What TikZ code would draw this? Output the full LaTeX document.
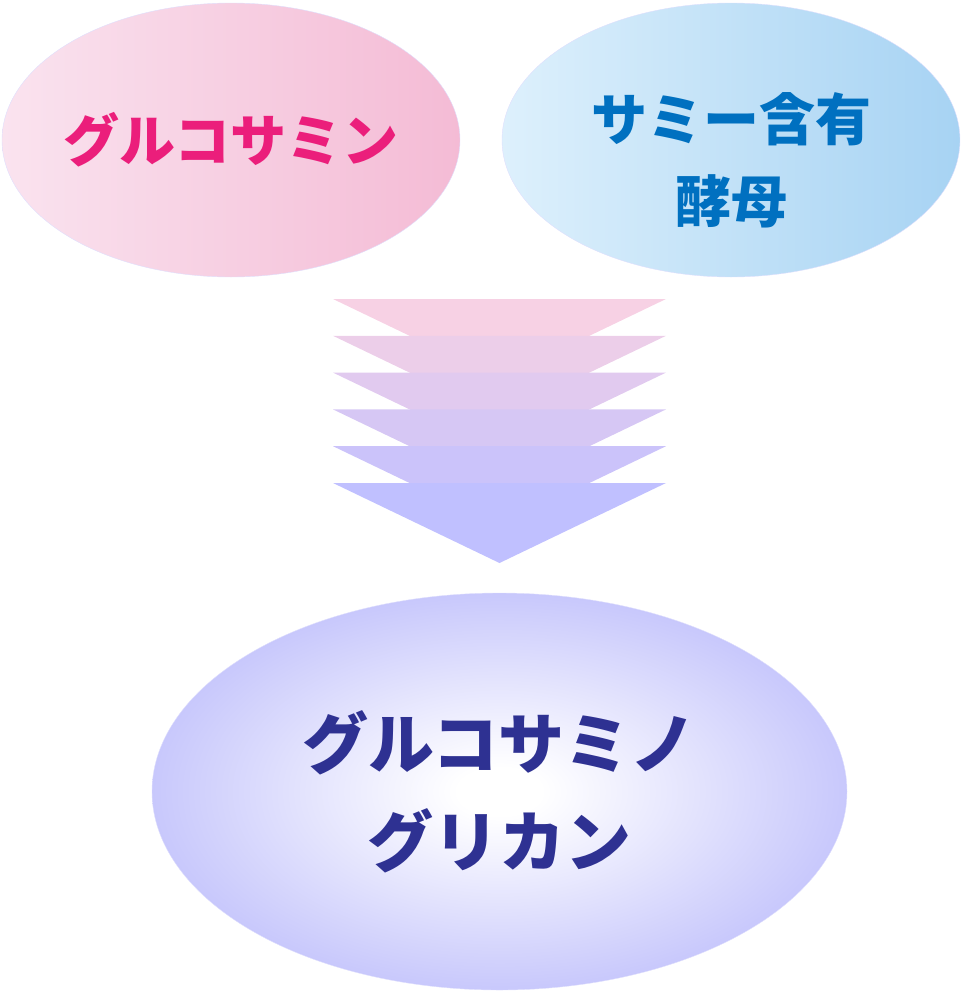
\documentclass[tikz,border=0pt]{standalone}
\usepackage{fontspec}
\newfontfamily\jpfont{Noto Sans CJK JP Black}
\usetikzlibrary{shapes.geometric}

\definecolor{glucopink}{HTML}{EB1E7B}
\definecolor{yeastblue}{HTML}{0070C0}
\definecolor{gagnavy}{HTML}{2E3192}
\definecolor{pinkL}{HTML}{FAE3EF}
\definecolor{pinkR}{HTML}{F4BBD5}
\definecolor{blueL}{HTML}{DDF0FC}
\definecolor{blueR}{HTML}{A7D3F3}
\definecolor{lavedge}{HTML}{BEBEFB}
\definecolor{chevtop}{HTML}{F7D1E4}
\definecolor{chevbot}{HTML}{C0C0FF}

\pgfdeclareradialshading{glowball}{\pgfpoint{0bp}{0bp}}{color(0bp)=(white); color(3bp)=(white); color(29bp)=(lavedge); color(50bp)=(lavedge)}

\begin{document}
\begin{tikzpicture}[
    x=0.75pt, y=-0.75pt,
    % ellipse behind each term
    blob/.style={ellipse, draw=lavedge!50, line width=0.3pt, inner sep=0pt},
    % bold gothic lettering
    word/.style={font=\jpfont\fontsize{42}{61.5}\selectfont, align=center, inner sep=0pt}
]
\useasboundingbox (0,0) rectangle (961,993);

% --- Sources ---
\node[blob, minimum width=343.5pt, minimum height=205.5pt,
      left color=pinkL, right color=pinkR] (gluco) at (231,140) {};
\node[blob, minimum width=343.5pt, minimum height=205.5pt,
      left color=blueL, right color=blueR] (yeast) at (731,140) {};

\node[word, text=glucopink] (glucoTxt) at (gluco.center) {グルコサミン};
\node[word, text=yeastblue] (yeastTxt) at ([yshift=-15pt]yeast.center) {サミー含有\\酵母};

% --- Stacked chevron arrow, pink fading into lavender ---
\foreach \i in {0,...,5}{
    \pgfmathtruncatemacro\mix{\i*20}
    \fill[chevbot!\mix!chevtop]
        (333,{299+36.8*\i}) -- (666,{299+36.8*\i}) -- (499.5,{379+36.8*\i}) -- cycle;
}

% --- Product ---
\node[blob, minimum width=521.25pt, minimum height=297.75pt,
      shading=glowball] (gag) at (499.5,791.5) {};
\node[word, font=\jpfont\fontsize{49.5}{73.5}\selectfont, text=gagnavy]
    (gagTxt) at (gag.center) {グルコサミノ\\グリカン};

\end{tikzpicture}
\end{document}
